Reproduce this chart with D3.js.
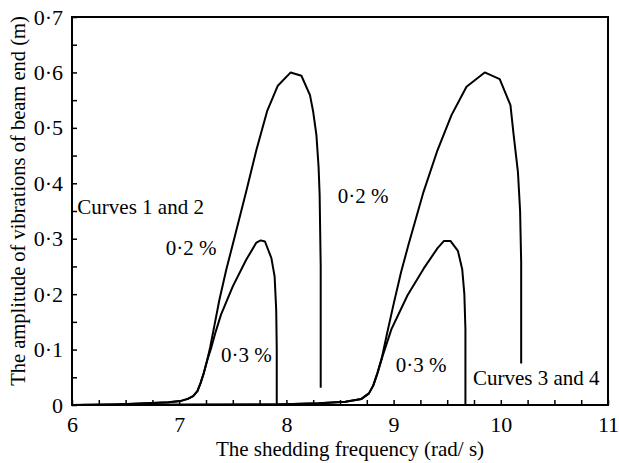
<!DOCTYPE html>
<html>
<head>
<meta charset="utf-8">
<script src="https://cdn.jsdelivr.net/npm/d3@7"></script>
<style>
    body { margin: 0; background: #fff; }
    svg text { font-family: 'Liberation Serif', 'Times New Roman', serif; fill: #000; }
</style>
</head>
<body>
<div class="js-canvas"></div>
<script>
'use strict';

// curve 1: 0.2 % damping, first resonance
const curve1 = [
    [6, 0], [6.4, 0.001], [6.7, 0.003], [6.9, 0.005], [7.01, 0.007], [7.08, 0.011],
    [7.13, 0.016], [7.17, 0.025], [7.2, 0.04], [7.23, 0.058], [7.26, 0.08], [7.29, 0.105],
    [7.33, 0.145], [7.375, 0.19], [7.44, 0.245], [7.5, 0.29], [7.625, 0.385], [7.72, 0.46],
    [7.82, 0.53], [7.92, 0.576], [8.04, 0.6], [8.14, 0.594], [8.22, 0.559], [8.25, 0.529],
    [8.28, 0.487], [8.3, 0.43], [8.31, 0.38], [8.32, 0.25], [8.32, 0.031]
];

// curve 2: 0.3 % damping, first resonance
const curve2 = [
    [6, 0], [6.4, 0.001], [6.7, 0.003], [6.9, 0.005], [7.01, 0.007], [7.08, 0.011],
    [7.13, 0.016], [7.17, 0.025], [7.2, 0.04], [7.23, 0.058], [7.26, 0.08], [7.3, 0.104],
    [7.34, 0.132], [7.39, 0.163], [7.5, 0.214], [7.625, 0.262], [7.72, 0.293], [7.76, 0.297],
    [7.8, 0.295], [7.86, 0.265], [7.89, 0.232], [7.905, 0.171], [7.91, 0.1], [7.91, 0]
];

// curve 3: 0.2 % damping, second resonance
const curve3 = [
    [6, 0], [7.9, 0.001], [8.3, 0.003], [8.55, 0.006], [8.7, 0.011], [8.77, 0.021],
    [8.81, 0.035], [8.85, 0.058], [8.89, 0.085], [8.94, 0.13], [9.0, 0.182], [9.07, 0.24],
    [9.14, 0.29], [9.28, 0.385], [9.41, 0.46], [9.54, 0.523], [9.68, 0.574], [9.85, 0.6],
    [9.99, 0.588], [10.09, 0.541], [10.12, 0.487], [10.16, 0.42], [10.18, 0.35],
    [10.19, 0.258], [10.19, 0.075]
];

// curve 4: 0.3 % damping, second resonance
const curve4 = [
    [6, 0], [7.9, 0.001], [8.3, 0.003], [8.55, 0.006], [8.7, 0.011], [8.77, 0.021],
    [8.81, 0.035], [8.85, 0.058], [8.9, 0.09], [8.98, 0.137], [9.13, 0.198], [9.28, 0.246],
    [9.41, 0.283], [9.47, 0.296], [9.53, 0.296], [9.6, 0.278], [9.64, 0.245], [9.66, 0.2],
    [9.67, 0.137], [9.67, 0]
];

const xTicks = d3.range(6, 11.001, 0.25);
const yTicks = d3.range(0, 0.7001, 0.05);
const xLabels = [6, 7, 8, 9, 10, 11];
const yLabels = [0, 0.1, 0.2, 0.3, 0.4, 0.5, 0.6, 0.7];

// annotations: [text, x value, y value] (y value = baseline)
const notes = [
    ['Curves 1 and 2', 6.05, 0.344],
    ['0·2 %', 6.875, 0.27],
    ['0·3 %', 7.39, 0.078],
    ['0·2 %', 8.48, 0.365],
    ['0·3 %', 9.02, 0.06],
    ['Curves 3 and 4', 9.74, 0.036]
];

const config = {
    width: 619,
    height: 463,
    margin: { top: 17, right: 11, bottom: 58, left: 72 },
    tick: 5
};

const graphWidth = config.width - config.margin.left - config.margin.right;
const graphHeight = config.height - config.margin.top - config.margin.bottom;

const svg = d3.select('.js-canvas')
    .append('svg')
    .attr('width', config.width)
    .attr('height', config.height);

const graph = svg.append('g')
    .attr('transform', `translate(${config.margin.left}, ${config.margin.top})`);

const x = d3.scaleLinear().domain([6, 11]).range([0, graphWidth]);
const y = d3.scaleLinear().domain([0, 0.7]).range([graphHeight, 0]);

const fmt = d => d === 0 ? '0' : d3.format('.1f')(d).replace('.', '·');
const isLabel = (list, d) => list.some(v => Math.abs(v - d) < 1e-6);

// x axis, ticks point inward
const xAxis = d3.axisBottom(x)
    .tickValues(xTicks)
    .tickSizeInner(-config.tick)
    .tickSizeOuter(0)
    .tickPadding(11)
    .tickFormat(d => isLabel(xLabels, d) ? d3.format('d')(d) : '');

const yAxis = d3.axisLeft(y)
    .tickValues(yTicks)
    .tickSizeInner(-config.tick)
    .tickSizeOuter(0)
    .tickPadding(9)
    .tickFormat(d => isLabel(yLabels, d) ? fmt(d) : '');

const xAxisGroup = graph.append('g')
    .attr('transform', `translate(0, ${graphHeight})`)
    .call(xAxis);
const yAxisGroup = graph.append('g').call(yAxis);

[xAxisGroup, yAxisGroup].forEach(g => {
    g.select('.domain').remove();
    g.selectAll('.tick line').attr('stroke', '#000').attr('stroke-width', 1.5);
    g.selectAll('.tick text')
        .attr('font-family', 'Liberation Serif, serif')
        .attr('font-size', 22)
        .attr('fill', '#000');
});

// frame
graph.append('rect')
    .attr('width', graphWidth)
    .attr('height', graphHeight)
    .attr('fill', 'none')
    .attr('stroke', '#000')
    .attr('stroke-width', 2);

const line = d3.line()
    .x(d => x(d[0]))
    .y(d => y(d[1]));

graph.selectAll('path.curve')
    .data([curve1, curve2, curve3, curve4])
    .enter()
    .append('path')
    .attr('class', 'curve')
    .attr('d', line)
    .attr('fill', 'none')
    .attr('stroke', '#000')
    .attr('stroke-width', 2)
    .attr('stroke-linejoin', 'round');

graph.selectAll('text.note')
    .data(notes)
    .enter()
    .append('text')
    .attr('class', 'note')
    .attr('x', d => x(d[1]))
    .attr('y', d => y(d[2]))
    .attr('font-size', 21)
    .text(d => d[0]);

// axis titles
svg.append('text')
    .attr('x', 350)
    .attr('y', 456)
    .attr('text-anchor', 'middle')
    .attr('font-size', 21)
    .text('The shedding frequency (rad/ s)');

svg.append('text')
    .attr('transform', `translate(25, ${config.margin.top + graphHeight / 2 - 10}) rotate(-90)`)
    .attr('text-anchor', 'middle')
    .attr('font-size', 20.5)
    .text('The amplitude of vibrations of beam end (m)');
</script>
</body>
</html>
